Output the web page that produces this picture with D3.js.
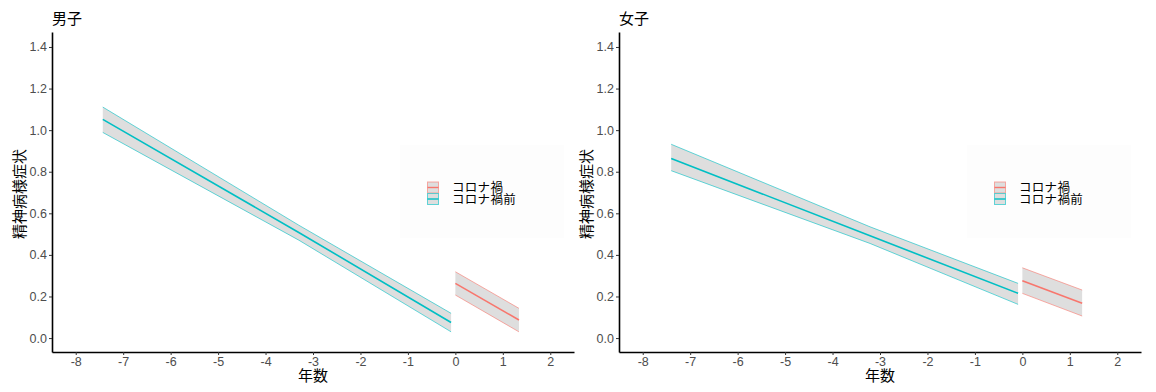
<!DOCTYPE html>
<html><head><meta charset="utf-8">
<script src="https://cdn.jsdelivr.net/npm/d3@7"></script>
<style>body{margin:0;background:#fff}svg{display:block}</style>
</head><body><svg id="c" width="1156" height="392"></svg>
<script>
// ---- data ----
const panelTitles = ["男子", "女子"];
const seriesNames = ["コロナ禍", "コロナ禍前"];
const xTickValues = [-8, -7, -6, -5, -4, -3, -2, -1, 0, 1, 2];
const yTickValues = [0, 0.2, 0.4, 0.6, 0.8, 1.0, 1.2, 1.4];
const xLabel = "年数";
const yLabel = "精神病様症状";

// 男子 コロナ禍前
const boysPreX   = [-7.43, -3.3, -0.09];
const boysPreFit = [1.052, 0.508, 0.075];
const boysPreLo  = [0.989, 0.471, 0.030];
const boysPreHi  = [1.111, 0.543, 0.119];
// 男子 コロナ禍
const boysPostX   = [0, 1.34];
const boysPostFit = [0.263, 0.087];
const boysPostLo  = [0.207, 0.030];
const boysPostHi  = [0.319, 0.143];
// 女子 コロナ禍前
const girlsPreX   = [-7.40, -3.21, -0.09];
const girlsPreFit = [0.864, 0.492, 0.215];
const girlsPreLo  = [0.805, 0.455, 0.162];
const girlsPreHi  = [0.932, 0.535, 0.263];
// 女子 コロナ禍
const girlsPostX   = [0, 1.26];
const girlsPostFit = [0.276, 0.167];
const girlsPostLo  = [0.215, 0.106];
const girlsPostHi  = [0.338, 0.231];

const colors = {"コロナ禍": "#F8766D", "コロナ禍前": "#00BFC4"};

function rows(x, fit, lo, hi) { return x.map((v, i) => ({x: v, y: fit[i], lo: lo[i], hi: hi[i]})); }
const panels = [
  {title: panelTitles[0], left: 52, series: [
    {name: seriesNames[1], data: rows(boysPreX, boysPreFit, boysPreLo, boysPreHi)},
    {name: seriesNames[0], data: rows(boysPostX, boysPostFit, boysPostLo, boysPostHi)}]},
  {title: panelTitles[1], left: 619, series: [
    {name: seriesNames[1], data: rows(girlsPreX, girlsPreFit, girlsPreLo, girlsPreHi)},
    {name: seriesNames[0], data: rows(girlsPostX, girlsPostFit, girlsPostLo, girlsPostHi)}]}
];

const svg = d3.select("#c");
const W = 522, plotTop = 32, plotBottom = 352;
const sansCJK = "'Noto Sans CJK JP', 'Noto Sans', sans-serif";
const sansLat = "'Liberation Sans', Arial, sans-serif";

panels.forEach(p => {
  const g = svg.append("g");
  const x = d3.scaleLinear().domain([-8.5, 2.5]).range([p.left, p.left + W]);
  const y = d3.scaleLinear().domain([-0.067, 1.472]).range([plotBottom, plotTop]);

  // legend background (drawn under the data)
  const lg = g.append("g");
  lg.append("rect").attr("x", p.left + 348).attr("y", 145).attr("width", 164).attr("height", 93).attr("fill", "#fdfdfd");

  // ribbons + lines
  p.series.forEach(s => {
    const c = colors[s.name];
    g.append("path").datum(s.data)
      .attr("d", d3.area().x(d => x(d.x)).y0(d => y(d.lo)).y1(d => y(d.hi)))
      .attr("fill", "#dedede").attr("stroke", "none");
    ["lo", "hi"].forEach(k => {
      g.append("path").datum(s.data)
        .attr("d", d3.line().x(d => x(d.x)).y(d => y(d[k])))
        .attr("fill", "none").attr("stroke", c).attr("stroke-opacity", 0.6).attr("stroke-width", 1);
    });
    g.append("path").datum(s.data)
      .attr("d", d3.line().x(d => x(d.x)).y(d => y(d.y)))
      .attr("fill", "none").attr("stroke", c).attr("stroke-width", 1.6);
  });

  // axes
  const ax = g.append("g").attr("transform", `translate(0,${plotBottom})`)
    .call(d3.axisBottom(x).tickValues(xTickValues).tickSize(3).tickSizeOuter(0).tickPadding(2).tickFormat(d3.format("d")));
  const ay = g.append("g").attr("transform", `translate(${p.left},0)`)
    .call(d3.axisLeft(y).tickValues(yTickValues).tickSize(3).tickSizeOuter(0).tickPadding(2).tickFormat(d3.format(".1f")));
  [ax, ay].forEach(a => {
    a.select(".domain").attr("stroke", "#000").attr("stroke-width", 1.6);
    a.selectAll(".tick line").attr("stroke", "#333").attr("stroke-width", 1);
    a.selectAll(".tick text").attr("fill", "#4d4d4d").style("font-family", sansLat).style("font-size", "12.5px");
  });
  ax.selectAll(".tick text").text(d => d < 0 ? "-" + Math.abs(d) : d);

  // titles
  g.append("text").attr("x", p.left).attr("y", 24).text(p.title)
    .style("font-family", sansCJK).style("font-size", "15px").attr("fill", "#000");
  g.append("text").attr("x", p.left + W / 2).attr("y", 381).attr("text-anchor", "middle").text(xLabel)
    .style("font-family", sansCJK).style("font-size", "15px").attr("fill", "#000");
  g.append("text").attr("transform", `translate(${p.left - 27},${(plotTop + plotBottom) / 2 + 2}) rotate(-90)`)
    .attr("text-anchor", "middle").text(yLabel)
    .style("font-family", sansCJK).style("font-size", "15px").attr("fill", "#000");

  // legend keys
  [seriesNames[0], seriesNames[1]].forEach((n, i) => {
    const ky = 182 + i * 11.5;
    const kx = p.left + 375.5;
    lg.append("rect").attr("x", kx).attr("y", ky).attr("width", 11).attr("height", 11)
      .attr("fill", "#dedede").attr("stroke", colors[n]).attr("stroke-opacity", 0.6).attr("stroke-width", 1);
    lg.append("line").attr("x1", kx).attr("x2", kx + 11).attr("y1", ky + 5.5).attr("y2", ky + 5.5)
      .attr("stroke", colors[n]).attr("stroke-width", 1.4);
    lg.append("text").attr("x", p.left + 400).attr("y", ky + 10).text(n)
      .style("font-family", sansCJK).style("font-size", "12.5px").style("letter-spacing", "0.3px").attr("fill", "#000");
  });
});
</script></body></html>
